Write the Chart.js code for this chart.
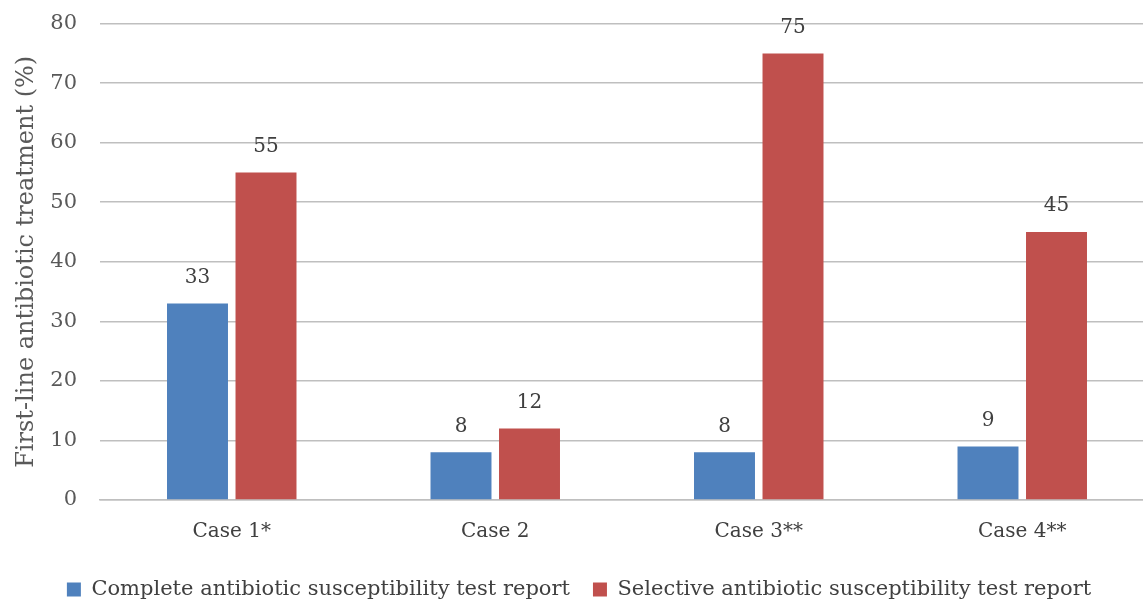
<!DOCTYPE html>
<html>
<head>
<meta charset="utf-8">
<script src="https://cdn.jsdelivr.net/npm/chart.js@4/dist/chart.umd.min.js"></script>
<style>
    html, body { margin: 0; padding: 0; background: #fff; overflow: hidden; }
    #wrap { width: 1160px; height: 622px; margin-top: -12px; }
</style>
</head>
<body>
<div id="wrap"><canvas id="bar_chart1"></canvas></div>
<script>
var categories = ["Case 1*", "Case 2", "Case 3**", "Case 4**"];
var completeReport = [33, 8, 8, 9];
var selectiveReport = [55, 12, 75, 45];
var yTicks = [0, 10, 20, 30, 40, 50, 60, 70, 80];

var serif = "'DejaVu Serif', 'Liberation Serif', serif";

// draws the value over each bar
var valueLabels = {
    id: 'valueLabels',
    afterDatasetsDraw: function (chart) {
        var ctx = chart.ctx;
        ctx.save();
        ctx.font = "20px " + serif;
        ctx.fillStyle = '#404040';
        ctx.textAlign = 'center';
        ctx.textBaseline = 'middle';
        chart.data.datasets.forEach(function (ds, i) {
            chart.getDatasetMeta(i).data.forEach(function (bar, j) {
                ctx.fillText(ds.data[j], bar.x, bar.y - 26);
            });
        });
        ctx.restore();
    }
};

new Chart(document.getElementById("bar_chart1").getContext("2d"), {
    type: 'bar',
    data: {
        labels: categories,
        datasets: [{
            label: "Complete antibiotic susceptibility test report",
            data: completeReport,
            backgroundColor: '#4F81BD'
        }, {
            label: "Selective antibiotic susceptibility test report",
            data: selectiveReport,
            backgroundColor: '#C0504D'
        }]
    },
    options: {
        responsive: true,
        maintainAspectRatio: false,
        animation: false,
        layout: { padding: { top: 0, left: 4, right: 6, bottom: 0 } },
        datasets: {
            bar: { categoryPercentage: 0.52, barPercentage: 0.89 }
        },
        scales: {
            x: {
                grid: { display: false },
                border: { color: '#bfbfbf', width: 1.5 },
                ticks: { color: '#404040', font: { family: serif, size: 20 }, padding: 12 }
            },
            y: {
                min: 0,
                max: 80,
                afterBuildTicks: function (axis) {
                    axis.ticks = yTicks.map(function (v) { return { value: v }; });
                },
                afterFit: function (axis) {
                    axis.width = 96;
                },
                grid: { color: '#bfbfbf', lineWidth: 1.5, drawTicks: false },
                border: { display: false },
                ticks: { color: '#595959', font: { family: serif, size: 21 }, padding: 23 },
                title: {
                    display: true,
                    text: 'First-line antibiotic treatment (%)',
                    color: '#595959',
                    font: { family: serif, size: 24 },
                    padding: { top: 8, bottom: 0 }
                }
            }
        },
        plugins: {
            legend: {
                position: 'bottom',
                labels: {
                    color: '#404040',
                    font: { family: serif, size: 21 },
                    boxWidth: 14,
                    boxHeight: 14,
                    padding: 23
                }
            },
            tooltip: { enabled: false }
        }
    },
    plugins: [valueLabels]
});
</script>
</body>
</html>
